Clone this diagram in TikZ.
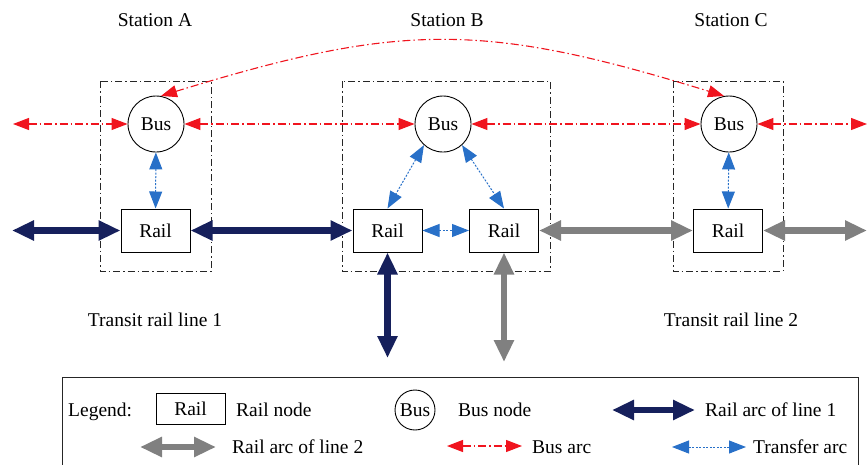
\documentclass[tikz,border=0pt]{standalone}
\usepackage{fontspec}
\setmainfont{Liberation Serif}
\newfontfamily\diagramfont{Liberation Serif}
\usetikzlibrary{arrows.meta}
\definecolor{railone}{RGB}{22,32,92}
\definecolor{railtwo}{RGB}{128,128,128}
\definecolor{busred}{RGB}{240,20,30}
\definecolor{xferblue}{RGB}{40,112,200}
\begin{document}
\begin{tikzpicture}[x=1pt,y=-1pt,
  every node/.style={font=\diagramfont\fontsize{19.5}{23}\selectfont, inner sep=0pt},
  railnode/.style={draw, line width=1pt, minimum width=69pt, minimum height=43pt},
  legrail/.style={draw, line width=1pt, minimum width=69pt, minimum height=31pt},
  busnode/.style={draw, circle, line width=0.9pt, minimum size=56pt},
  legbus/.style={draw, circle, line width=0.9pt, minimum size=40pt},
  stationbox/.style={draw=black!85, line width=0.9pt, dash pattern=on 7pt off 3pt on 1.5pt off 3pt},
  lineone/.style={draw=railone, line width=6.5pt, {Triangle[length=22pt,width=19pt]}-{Triangle[length=22pt,width=19pt]}},
  linetwo/.style={draw=railtwo, line width=6.5pt, {Triangle[length=22pt,width=19pt]}-{Triangle[length=22pt,width=19pt]}},
  busarc/.style={draw=busred, line width=1.1pt, dash pattern=on 8pt off 3pt on 1.5pt off 3pt,
    {Triangle[length=16pt,width=12pt]}-{Triangle[length=16pt,width=12pt]}},
  transfer/.style={draw=xferblue, line width=1pt, dash pattern=on 2pt off 1.5pt,
    {Triangle[length=17pt,width=13pt]}-{Triangle[length=17pt,width=13pt]}},
  label/.style={anchor=base}
]
\useasboundingbox (0,0) rectangle (868,464);

% station frames
\draw[stationbox] (100,81) rectangle (211,271);
\draw[stationbox] (342,81) rectangle (550,271);
\draw[stationbox] (673,81) rectangle (783,271);

% station titles
\node[label] (tA) at (155,26) {Station A};
\node[label] (tB) at (447,26) {Station B};
\node[label] (tC) at (731,26) {Station C};

% bus and rail nodes
\node[busnode] (busA) at (156,124) {Bus};
\node[busnode] (busB) at (443,124) {Bus};
\node[busnode] (busC) at (729,124) {Bus};
\node[railnode] (railA) at (155.5,230.5) {Rail};
\node[railnode] (railB1) at (387.5,230.5) {Rail};
\node[railnode] (railB2) at (504,230.5) {Rail};
\node[railnode] (railC) at (728,230.5) {Rail};

% open ends of the network
\coordinate (busW) at (13,124);
\coordinate (busE) at (867,124);
\coordinate (railW) at (12,230.5);
\coordinate (railE) at (867,230.5);
\coordinate (downOne) at (387.5,358);
\coordinate (downTwo) at (504,362);

% bus arcs
\draw[busarc] (busW) -- (busA);
\draw[busarc] (busA) -- (busB);
\draw[busarc] (busB) -- (busC);
\draw[busarc] (busC) -- (busE);
\draw[busarc] (busA.80) .. controls (401,22) and (484,22) .. (busC.100);

% transfer arcs
\draw[transfer] (busA) -- (railA);
\draw[transfer] (busB.228) -- (railB1.north);
\draw[transfer] (busB.312) -- (railB2.north);
\draw[transfer] (railB1) -- (railB2);
\draw[transfer] (busC) -- (railC);

% rail line 1
\draw[lineone] (railW) -- (railA);
\draw[lineone] (railA) -- (railB1);
\draw[lineone] (railB1) -- (downOne);

% rail line 2
\draw[linetwo] (railB2) -- (railC);
\draw[linetwo] (railB2) -- (downTwo);
\draw[linetwo] (railC) -- (railE);

% line names
\node[label] (lineOneName) at (155,326) {Transit rail line 1};
\node[label] (lineTwoName) at (731,326) {Transit rail line 2};

% legend frame (runs off the lower edge)
\draw[line width=1pt, black!85] (62,466) -- (62,377) -- (858,377) -- (858,466);

% legend, first row
\node[anchor=base west] (legTitle) at (68,416) {Legend:};
\node[legrail] (legRail) at (190.5,408.5) {Rail};
\node[anchor=base west] (legRailTxt) at (236,416) {Rail node};
\node[legbus] (legBus) at (415,410) {Bus};
\node[anchor=base west] (legBusTxt) at (458,416) {Bus node};
\coordinate (l1a) at (612,410);
\coordinate (l1b) at (695,410);
\draw[lineone] (l1a) -- (l1b);
\node[anchor=base west] (legOneTxt) at (705,416) {Rail arc of line 1};

% legend, second row
\coordinate (l2a) at (140,447);
\coordinate (l2b) at (216,447);
\draw[linetwo] (l2a) -- (l2b);
\node[anchor=base west] (legTwoTxt) at (232,453) {Rail arc of line 2};
\coordinate (lba) at (447,446);
\coordinate (lbb) at (522,446);
\draw[busarc] (lba) -- (lbb);
\node[anchor=base west] (legBusArcTxt) at (532,453) {Bus arc};
\coordinate (lta) at (672,447);
\coordinate (ltb) at (746,447);
\draw[transfer] (lta) -- (ltb);
\node[anchor=base west] (legXferTxt) at (753,453) {Transfer arc};
\end{tikzpicture}
\end{document}
